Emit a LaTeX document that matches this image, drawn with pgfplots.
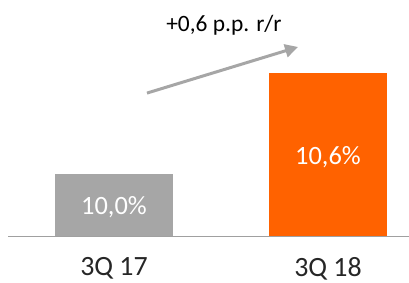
\documentclass[border=0pt]{standalone}
\usepackage{pgfplots}
\pgfplotsset{compat=1.18}
\usepackage{fontspec}
\setmainfont{Carlito}
\usetikzlibrary{arrows.meta}
\definecolor{barGray}{HTML}{A6A6A6}
\definecolor{ingOrange}{HTML}{FF6200}
\definecolor{lineGray}{HTML}{A0A0A0}
\definecolor{txt}{HTML}{262626}
\begin{document}
\begin{tikzpicture}
\begin{axis}[
  scale only axis, width=409bp, height=236bp,
  xmin=-0.5327, xmax=1.3785, ymin=9.632, ymax=11.034,
  axis line style={draw=none},
  ytick=\empty,
  xtick={0,1}, xticklabels={3Q 17,3Q 18},
  major tick length=0pt,
  xticklabel style={font=\fontsize{28}{30}\selectfont, text=txt, yshift=-17.5bp},
  clip=false,
]
\addplot[ybar, bar shift=0pt, bar width=0.556, fill=barGray, draw=none] coordinates {(0,10.0)};
\addplot[ybar, bar shift=0pt, bar width=0.556, fill=ingOrange, draw=none] coordinates {(1,10.6)};
\draw[lineGray, line width=1bp] (axis cs:-0.495,9.632) -- (axis cs:1.3785,9.632);
\node[text=white, font=\fontsize{26.5}{28}\selectfont] at (axis cs:0,9.804) {10,0\%};
\node[text=white, font=\fontsize{26.5}{28}\selectfont] at (axis cs:1,10.101) {10,6\%};
\draw[barGray, line width=3bp, -{Triangle[length=13bp,width=13bp]}] (axis cs:0.154,10.481) -- (axis cs:0.860,10.755);
\node[text=black, font=\fontsize{23.5}{26}\selectfont] at (axis cs:0.514,10.885) {+0,6 p.p. r/r};
\end{axis}
\pgfresetboundingbox
\path[use as bounding box] ([yshift=-47bp]current axis.south west) rectangle (current axis.north east);
\end{tikzpicture}
\end{document}
